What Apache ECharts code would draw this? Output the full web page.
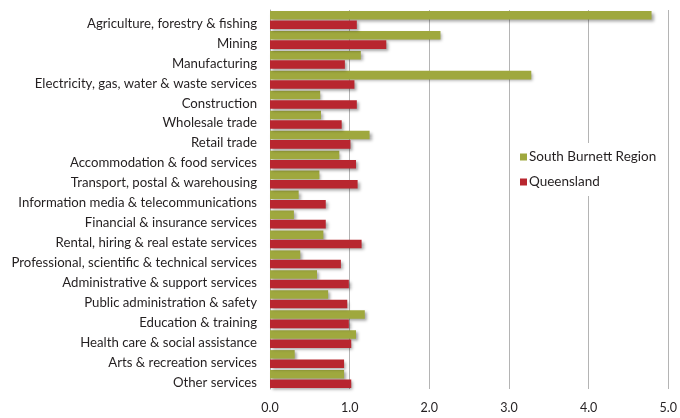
<!DOCTYPE html>
<html>
<head>
<meta charset="utf-8">
<script src="https://cdn.jsdelivr.net/npm/echarts@6/dist/echarts.min.js"></script>
<style>
  html, body { margin: 0; padding: 0; background: #fff; }
  #chart { width: 680px; height: 418px; }
</style>
</head>
<body>
<div id="chart"></div>
<script>
// Industry categories (top to bottom)
const industries = [
  'Agriculture, forestry & fishing',
  'Mining',
  'Manufacturing',
  'Electricity, gas, water & waste services',
  'Construction',
  'Wholesale trade',
  'Retail trade',
  'Accommodation & food services',
  'Transport, postal & warehousing',
  'Information media & telecommunications',
  'Financial & insurance services',
  'Rental, hiring & real estate services',
  'Professional, scientific & technical services',
  'Administrative & support services',
  'Public administration & safety',
  'Education & training',
  'Health care & social assistance',
  'Arts & recreation services',
  'Other services'
];

const southBurnett = [4.79, 2.14, 1.14, 3.28, 0.63, 0.64, 1.25, 0.87, 0.62, 0.36,
                      0.30, 0.67, 0.38, 0.59, 0.73, 1.19, 1.08, 0.31, 0.93];
const queensland   = [1.09, 1.46, 0.94, 1.06, 1.09, 0.90, 1.01, 1.08, 1.10, 0.70,
                      0.70, 1.15, 0.89, 0.99, 0.97, 0.99, 1.02, 0.93, 1.02];

const seriesNames = ['South Burnett Region', 'Queensland'];
const xTicks = [0, 1, 2, 3, 4, 5];

const FONT = 'Lato';
const shadow = {
  shadowColor: 'rgba(0,0,0,0.35)',
  shadowBlur: 3,
  shadowOffsetX: 2,
  shadowOffsetY: 2
};

const chart = echarts.init(document.getElementById('chart'), null, { renderer: 'canvas' });
chart.setOption({
  animation: false,
  backgroundColor: '#ffffff',
  grid: { left: 270, right: 10, top: 10, bottom: 29, containLabel: false },
  legend: {
    orient: 'vertical',
    left: 516,
    top: 143,
    padding: [7, 10, 7, 4],
    itemGap: 11,
    itemWidth: 7,
    itemHeight: 7,
    icon: 'rect',
    backgroundColor: '#ffffff',
    textStyle: { fontFamily: FONT, fontSize: 13.5, color: '#231f20', lineHeight: 14, padding: [0, 0, 0, -3] },
    data: seriesNames
  },
  xAxis: {
    type: 'value',
    min: xTicks[0],
    max: xTicks[xTicks.length - 1],
    interval: 1,
    axisLine: { show: false },
    axisTick: { show: false },
    splitLine: { show: true, lineStyle: { color: '#b4b4b4', width: 1 } },
    axisLabel: {
      margin: 12,
      fontFamily: FONT, fontSize: 12.5, color: '#231f20',
      formatter: v => v.toFixed(1)
    }
  },
  yAxis: {
    type: 'category',
    inverse: true,
    data: industries,
    axisLine: { show: true, lineStyle: { color: '#a8a8a8', width: 1 } },
    axisTick: { show: false },
    axisLabel: {
      interval: 0,
      hideOverlap: false,
      margin: 13, fontFamily: FONT, fontSize: 13.2, color: '#231f20',
      verticalAlign: 'top', lineHeight: 7
    }
  },
  series: [
    {
      name: seriesNames[0],
      type: 'bar',
      data: southBurnett,
      barGap: '10%',
      barCategoryGap: '10%',
      itemStyle: Object.assign({ color: '#9fa83e' }, shadow)
    },
    {
      name: seriesNames[1],
      type: 'bar',
      data: queensland,
      barGap: '10%',
      barCategoryGap: '10%',
      itemStyle: Object.assign({ color: '#b8262f' }, shadow)
    }
  ]
});
</script>
</body>
</html>
